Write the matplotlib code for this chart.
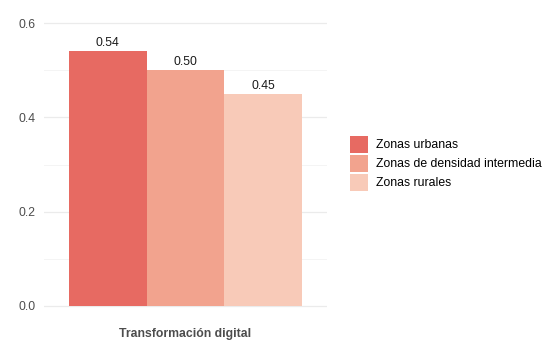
import matplotlib
matplotlib.use("Agg")
import matplotlib.pyplot as plt
from matplotlib.ticker import MultipleLocator

plt.rcParams['font.family'] = ['Liberation Sans', 'DejaVu Sans']

category = "Transformación digital"
series = ["Zonas urbanas", "Zonas de densidad intermedia", "Zonas rurales"]
values = [0.54, 0.50, 0.45]
colors = ["#E76A62", "#F2A38E", "#F8CAB8"]

FS = 8.8

fig = plt.figure(figsize=(5.54, 3.54), dpi=100)
ax = fig.add_axes([44/554, 1-320/354, 283/554, 311/354])

w = 0.3
offsets = [(i - (len(series)-1)/2) * w for i in range(len(series))]
bars = []
for off, v, c, lab in zip(offsets, values, colors, series):
    b = ax.bar(off, v, width=w, color=c, label=lab, zorder=2, linewidth=0)
    bars.append(b)
    ax.bar_label(b, labels=[f"{v:.2f}"], padding=1.5, fontsize=FS, color="#1a1a1a")

ax.set_xlim(-0.545, 0.545)
ax.set_ylim(-0.03, 0.63)
ax.yaxis.set_minor_locator(MultipleLocator(0.1))
ax.set_yticks([0.0, 0.2, 0.4, 0.6])
ax.set_yticklabels(["0.0", "0.2", "0.4", "0.6"])
ax.set_xticks([0])
ax.set_xticklabels([category], fontweight="bold")
ax.tick_params(axis='both', length=0, labelsize=FS, colors="#4D4D4D", pad=6)
ax.tick_params(axis='y', which='minor', length=0)
ax.grid(axis='y', which='major', color="#EBEBEB", linewidth=0.9, zorder=0)
ax.grid(axis='y', which='minor', color="#F2F2F2", linewidth=0.6, zorder=0)
ax.set_axisbelow(True)
for s in ax.spines.values():
    s.set_visible(False)

fig.legend(handles=[b[0] for b in bars], labels=series, loc='upper left',
           bbox_to_anchor=(350/554, 1-135.7/354), frameon=False, fontsize=FS,
           borderpad=0, handlelength=18/(FS*100/72), handleheight=1.777,
           labelspacing=0.16, handletextpad=0.64, borderaxespad=0)

fig.savefig("out.png", dpi=100)
